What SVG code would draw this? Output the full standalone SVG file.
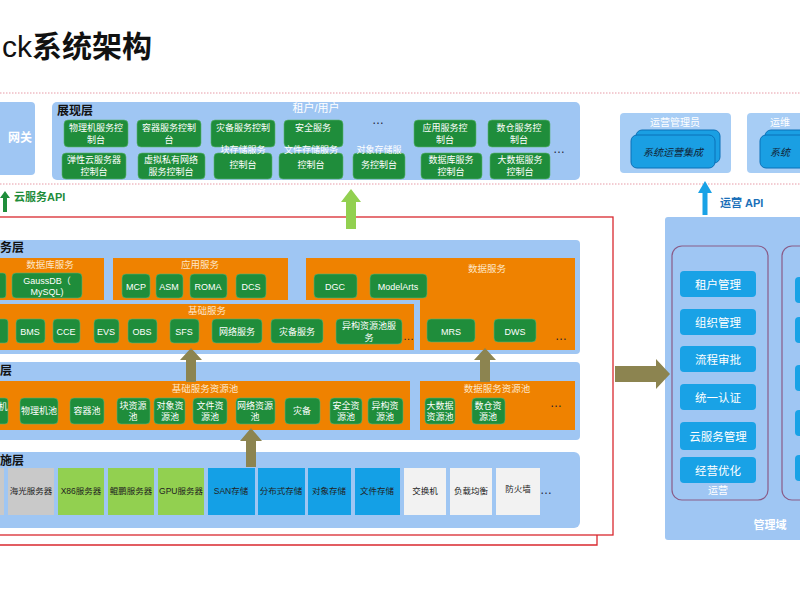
<svg xmlns="http://www.w3.org/2000/svg" width="800" height="600" viewBox="0 0 800 600">
<style>
text{font-family:"Liberation Sans","Noto Sans CJK SC",sans-serif}
.lb{fill:#9fc6f3}
.or{fill:#ef8200}
.g{fill:#1f8d3b;stroke:#5db46e;stroke-width:0.6}
.gt{fill:#fff;font-size:9px;text-anchor:middle}
.ot{fill:#fde6c8;font-size:9.5px;text-anchor:middle}
.h{fill:#111;font-size:12px;font-weight:bold}
.bb{fill:#19a2e6}
.bt{fill:#fff;font-size:11.5px;text-anchor:middle}
.tt{font-size:8.5px;text-anchor:middle;fill:#222}
.br{fill:#8c8450}
</style>
<rect width="800" height="600" fill="#fff"/>
<text x="2" y="57" font-size="30" font-weight="bold" fill="#111"><tspan font-weight="normal">ck</tspan>系统架构</text>
<line x1="0" y1="93" x2="800" y2="93" stroke="#e79aa6" stroke-width="1" stroke-dasharray="1.5,1.5"/>
<line x1="0" y1="184" x2="800" y2="184" stroke="#e79aa6" stroke-width="1" stroke-dasharray="1.5,1.5"/>

<g id="gateway"><rect x="-6" y="102" width="41" height="73" rx="4" class="lb"/><text x="8" y="142" font-size="12" fill="#fff" font-weight="bold">网关</text></g>

<g id="presentation">
<rect x="52" y="102" width="528" height="78" rx="5" class="lb"/>
<text x="57" y="115" class="h">展现层</text>
<text x="316" y="112" font-size="11" fill="#fff" text-anchor="middle">租户/用户</text>
<rect x="64" y="120" width="64" height="27" rx="4" class="g"/><text x="96" y="131" class="gt">物理机服务控</text><text x="96" y="143" class="gt">制台</text>
<rect x="137" y="120" width="64" height="27" rx="4" class="g"/><text x="169" y="131" class="gt">容器服务控制</text><text x="169" y="143" class="gt">台</text>
<rect x="211" y="120" width="64" height="27" rx="4" class="g"/><text x="243" y="131" class="gt">灾备服务控制</text>
<rect x="284" y="120" width="59" height="27" rx="4" class="g"/><text x="313" y="131" class="gt">安全服务</text>
<text x="372" y="124" font-size="12" fill="#223">…</text>
<rect x="414" y="120" width="62" height="27" rx="4" class="g"/><text x="445" y="131" class="gt">应用服务控</text><text x="445" y="143" class="gt">制台</text>
<rect x="488" y="120" width="62" height="27" rx="4" class="g"/><text x="519" y="131" class="gt">数仓服务控</text><text x="519" y="143" class="gt">制台</text>
<rect x="62" y="153" width="64" height="26" rx="4" class="g"/><text x="94" y="163" class="gt">弹性云服务器</text><text x="94" y="175" class="gt">控制台</text>
<rect x="138" y="153" width="67" height="26" rx="4" class="g"/><text x="171" y="163" class="gt">虚拟私有网络</text><text x="171" y="175" class="gt">服务控制台</text>
<rect x="214" y="153" width="58" height="26" rx="4" class="g"/><text x="243" y="153" class="gt">块存储服务</text><text x="243" y="168" class="gt">控制台</text>
<rect x="279" y="153" width="64" height="26" rx="4" class="g"/><text x="311" y="153" class="gt">文件存储服务</text><text x="311" y="168" class="gt">控制台</text>
<rect x="353" y="153" width="52" height="26" rx="4" class="g"/><text x="379" y="153" class="gt">对象存储服</text><text x="379" y="168" class="gt">务控制台</text>
<rect x="421" y="153" width="61" height="26" rx="4" class="g"/><text x="451" y="163" class="gt">数据库服务</text><text x="451" y="175" class="gt">控制台</text>
<rect x="490" y="153" width="60" height="26" rx="4" class="g"/><text x="520" y="163" class="gt">大数据服务</text><text x="520" y="175" class="gt">控制台</text>
<text x="553" y="153" font-size="12" fill="#223">…</text>
</g>

<g id="ops-admin">
<rect x="620" y="113" width="111" height="60" rx="4" fill="#a7cdf5"/>
<text x="675" y="126" font-size="10" fill="#fff" text-anchor="middle">运营管理员</text>
<rect x="636" y="130" width="84" height="33" rx="6" fill="#1a9fe3" stroke="#0b70b8"/>
<rect x="631" y="135" width="84" height="33" rx="6" fill="#1a9fe3" stroke="#0b70b8"/>
<text x="673" y="156" font-size="10" font-style="italic" fill="#123" text-anchor="middle">系统运营集成</text>
</g>
<g id="ops-admin2">
<rect x="747" y="113" width="60" height="60" rx="4" fill="#a7cdf5"/>
<text x="770" y="126" font-size="10" fill="#fff">运维</text>
<rect x="765" y="130" width="50" height="33" rx="6" fill="#1a9fe3" stroke="#0b70b8"/>
<rect x="760" y="135" width="50" height="33" rx="6" fill="#1a9fe3" stroke="#0b70b8"/>
<text x="770" y="156" font-size="10" font-style="italic" fill="#123">系统</text>
</g>

<g id="red-frame" fill="none" stroke="#d9282f" stroke-width="1.3">
<rect x="-3" y="217" width="616" height="318"/>
<path d="M0 545 H597 V535"/>
</g>

<g id="service-layer">
<rect x="-6" y="240" width="586" height="114" rx="4" class="lb"/>
<text x="0" y="252" class="h">务层</text>
<rect x="-6" y="258" width="110" height="42" class="or"/><text x="50" y="268" class="ot">数据库服务</text>
<rect x="-6" y="273" width="12" height="25" rx="3" class="g"/>
<rect x="12" y="273" width="70" height="25" rx="4" class="g"/><text x="47" y="284" class="gt" font-size="10">GaussDB（</text><text x="47" y="295" class="gt" font-size="10">MySQL)</text>
<rect x="113" y="258" width="175" height="42" class="or"/><text x="200" y="268" class="ot">应用服务</text>
<rect x="122" y="274" width="28" height="24" rx="4" class="g"/><text x="136" y="290" class="gt" font-size="10">MCP</text>
<rect x="156" y="274" width="27" height="24" rx="4" class="g"/><text x="169" y="290" class="gt" font-size="10">ASM</text>
<rect x="190" y="274" width="37" height="24" rx="4" class="g"/><text x="208" y="290" class="gt" font-size="10">ROMA</text>
<rect x="236" y="274" width="30" height="24" rx="4" class="g"/><text x="251" y="290" class="gt" font-size="10">DCS</text>
<path d="M306 258 H575 V350 H420 V300 H306 Z" class="or"/><text x="487" y="272" class="ot">数据服务</text>
<rect x="314" y="274" width="43" height="24" rx="4" class="g"/><text x="335" y="290" class="gt" font-size="10">DGC</text>
<rect x="370" y="274" width="57" height="24" rx="4" class="g"/><text x="398" y="290" class="gt" font-size="10">ModelArts</text>
<rect x="-6" y="304" width="420" height="46" class="or"/><text x="207" y="314" class="ot">基础服务</text>
<rect x="-6" y="319" width="14" height="24" rx="3" class="g"/>
<rect x="16" y="319" width="29" height="24" rx="4" class="g"/><text x="30" y="335" class="gt" font-size="10">BMS</text>
<rect x="53" y="319" width="27" height="24" rx="4" class="g"/><text x="66" y="335" class="gt" font-size="10">CCE</text>
<rect x="94" y="319" width="25" height="24" rx="4" class="g"/><text x="106" y="335" class="gt" font-size="10">EVS</text>
<rect x="128" y="319" width="29" height="24" rx="4" class="g"/><text x="142" y="335" class="gt" font-size="10">OBS</text>
<rect x="170" y="319" width="29" height="24" rx="4" class="g"/><text x="184" y="335" class="gt" font-size="10">SFS</text>
<rect x="212" y="319" width="50" height="24" rx="4" class="g"/><text x="237" y="335" class="gt">网络服务</text>
<rect x="271" y="319" width="52" height="24" rx="4" class="g"/><text x="297" y="335" class="gt">灾备服务</text>
<rect x="336" y="319" width="66" height="25" rx="4" class="g"/><text x="369" y="329" class="gt">异构资源池服</text><text x="369" y="341" class="gt">务</text>
<text x="403" y="340" font-size="11" fill="#223">…</text>
<rect x="427" y="319" width="48" height="23" rx="4" class="g"/><text x="451" y="335" class="gt" font-size="10">MRS</text>
<rect x="494" y="319" width="42" height="23" rx="4" class="g"/><text x="515" y="335" class="gt" font-size="10">DWS</text>
<text x="555" y="340" font-size="12" fill="#223">…</text>
</g>

<g id="resource-layer">
<rect x="-6" y="362" width="586" height="78" rx="4" class="lb"/>
<text x="0" y="375" class="h">层</text>
<rect x="-6" y="381" width="416" height="49" class="or"/><text x="205" y="392" class="ot">基础服务资源池</text>
<rect x="420" y="381" width="155" height="49" class="or"/><text x="497" y="392" class="ot">数据服务资源池</text>
<rect x="-6" y="398" width="14" height="26" rx="3" class="g"/><text x="3" y="410" class="gt">机</text>
<rect x="20" y="398" width="38" height="26" rx="4" class="g"/><text x="39" y="414" class="gt">物理机池</text>
<rect x="70" y="398" width="34" height="26" rx="4" class="g"/><text x="87" y="414" class="gt">容器池</text>
<rect x="117" y="398" width="33" height="26" rx="4" class="g"/><text x="133" y="409" class="gt">块资源</text><text x="133" y="420" class="gt">池</text>
<rect x="154" y="398" width="31" height="26" rx="4" class="g"/><text x="170" y="409" class="gt">对象资</text><text x="170" y="420" class="gt">源池</text>
<rect x="193" y="398" width="34" height="26" rx="4" class="g"/><text x="210" y="409" class="gt">文件资</text><text x="210" y="420" class="gt">源池</text>
<rect x="236" y="398" width="39" height="26" rx="4" class="g"/><text x="255" y="409" class="gt">网络资源</text><text x="255" y="420" class="gt">池</text>
<rect x="285" y="398" width="35" height="26" rx="4" class="g"/><text x="302" y="414" class="gt">灾备</text>
<rect x="330" y="398" width="32" height="26" rx="4" class="g"/><text x="346" y="409" class="gt">安全资</text><text x="346" y="420" class="gt">源池</text>
<rect x="368" y="398" width="35" height="26" rx="4" class="g"/><text x="385" y="409" class="gt">异构资</text><text x="385" y="420" class="gt">源池</text>
<rect x="425" y="398" width="30" height="26" rx="4" class="g"/><text x="440" y="409" class="gt">大数据</text><text x="440" y="420" class="gt">资源池</text>
<rect x="472" y="398" width="33" height="26" rx="4" class="g"/><text x="488" y="409" class="gt">数仓资</text><text x="488" y="420" class="gt">源池</text>
<text x="550" y="407" font-size="12" fill="#223">…</text>
</g>

<g id="infra-layer">
<rect x="-6" y="452" width="586" height="76" rx="6" class="lb"/>
<text x="0" y="465" class="h">施层</text>
<rect x="-6" y="468" width="10" height="47" fill="#c9c9c9"/>
<rect x="8" y="468" width="46" height="47" fill="#c9c9c9"/><text x="31" y="494" class="tt">海光服务器</text>
<rect x="58" y="468" width="46" height="47" fill="#92d050"/><text x="81" y="494" class="tt">X86服务器</text>
<rect x="108" y="468" width="46" height="47" fill="#92d050"/><text x="131" y="494" class="tt">鲲鹏服务器</text>
<rect x="158" y="468" width="46" height="47" fill="#92d050"/><text x="181" y="494" class="tt">GPU服务器</text>
<rect x="208" y="468" width="47" height="47" fill="#14a0e6"/><text x="231" y="494" class="tt">SAN存储</text>
<rect x="258" y="468" width="47" height="47" fill="#14a0e6"/><text x="281" y="494" class="tt">分布式存储</text>
<rect x="308" y="468" width="43" height="47" fill="#14a0e6"/><text x="329" y="494" class="tt">对象存储</text>
<rect x="355" y="468" width="45" height="47" fill="#14a0e6"/><text x="377" y="494" class="tt">文件存储</text>
<rect x="404" y="468" width="42" height="47" fill="#f2f2f2"/><text x="425" y="494" class="tt">交换机</text>
<rect x="450" y="468" width="42" height="47" fill="#f2f2f2"/><text x="471" y="494" class="tt">负载均衡</text>
<rect x="496" y="468" width="44" height="47" fill="#f2f2f2"/><text x="518" y="492" class="tt">防火墙</text>
<text x="540" y="494" font-size="12" fill="#223">…</text>
</g>

<g id="mgmt">
<rect x="665" y="217" width="145" height="323" rx="3" fill="#9fc6f3"/>
<rect x="672" y="246" width="96" height="254" rx="10" fill="none" stroke="#8a5c88" stroke-width="1.2"/>
<rect x="782" y="246" width="40" height="254" rx="10" fill="none" stroke="#8a5c88" stroke-width="1.2"/>
<rect x="680" y="271" width="76" height="26" rx="4" class="bb"/><text x="718" y="289" class="bt">租户管理</text>
<rect x="680" y="309" width="76" height="26" rx="4" class="bb"/><text x="718" y="327" class="bt">组织管理</text>
<rect x="680" y="346" width="76" height="26" rx="4" class="bb"/><text x="718" y="364" class="bt">流程审批</text>
<rect x="680" y="384" width="76" height="26" rx="4" class="bb"/><text x="718" y="402" class="bt">统一认证</text>
<rect x="680" y="422" width="76" height="28" rx="4" class="bb"/><text x="718" y="441" class="bt">云服务管理</text>
<rect x="680" y="457" width="76" height="26" rx="4" class="bb"/><text x="718" y="475" class="bt">经营优化</text>
<text x="718" y="494" font-size="10" fill="#fff" text-anchor="middle">运营</text>
<rect x="795" y="277" width="20" height="26" rx="4" class="bb"/>
<rect x="795" y="317" width="20" height="26" rx="4" class="bb"/>
<rect x="795" y="365" width="20" height="26" rx="4" class="bb"/>
<rect x="795" y="410" width="20" height="26" rx="4" class="bb"/>
<rect x="795" y="455" width="20" height="26" rx="4" class="bb"/>
<text x="770" y="529" font-size="11" font-weight="bold" fill="#fff" text-anchor="middle">管理域</text>
</g>

<g id="connectors">
<path d="M0 198 L5 191 L10 198 H7 V212 H3 V198 Z" fill="#1f8d3b"/>
<text x="14" y="201" font-size="11" font-weight="bold" fill="#1f8d3b">云服务API</text>
<path d="M341 202 L351 189 L361 202 H356 V229 H346 V202 Z" fill="#92d050"/>
<path d="M698 193 L705 181 L712 193 H707.5 V215 H702.5 V193 Z" fill="#19a2e6"/>
<text x="720" y="207" font-size="11" font-weight="bold" fill="#1a6fb8">运营 API</text>
<path d="M180 360 L191 348 L202 360 H196 V382 H186 V360 Z" class="br"/>
<path d="M474 360 L485 348 L496 360 H490 V382 H480 V360 Z" class="br"/>
<path d="M240 441 L251 428 L262 441 H256 V467 H246 V441 Z" class="br"/>
<path d="M615 366 H656 V359 L670 374 L656 389 V382 H615 Z" class="br"/>
</g>
</svg>
